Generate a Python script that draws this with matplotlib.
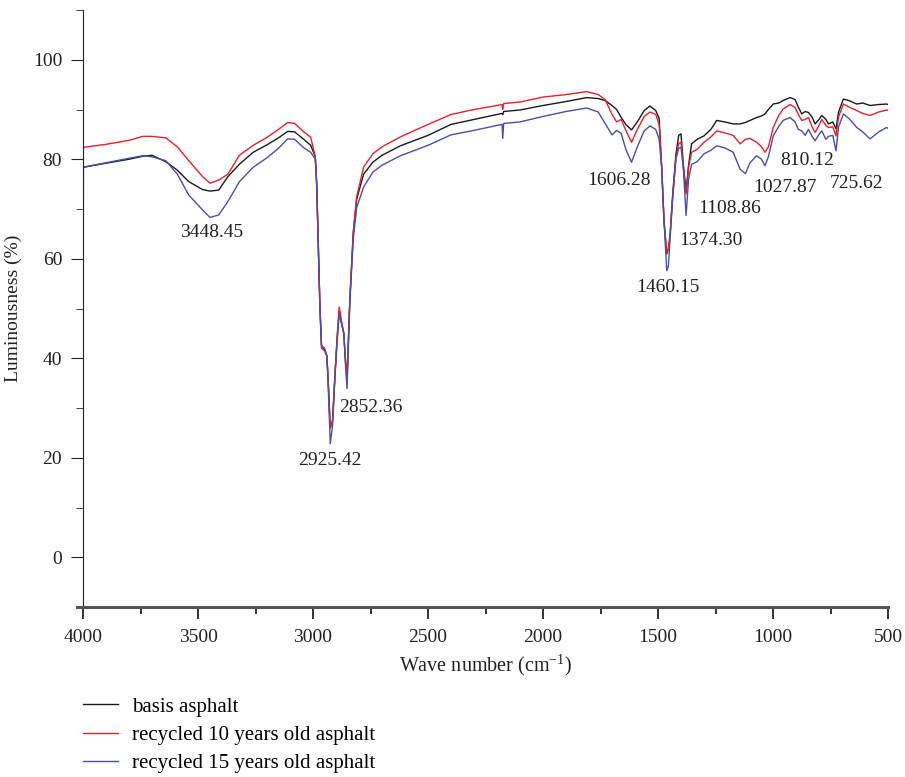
import numpy as np
from matplotlib import pyplot as plt
from matplotlib.ticker import MultipleLocator

# wave numbers (cm-1), shared by the three spectra
wave = [4000, 3998, 3900, 3800, 3740, 3700, 3640, 3590, 3540, 3480, 3448, 3410,
        3370, 3320, 3260, 3200, 3150, 3110, 3080, 3040, 3010, 2990, 2984, 2970,
        2963, 2950, 2940, 2935, 2925, 2915, 2904, 2895, 2886, 2876, 2866, 2858,
        2852, 2840, 2825, 2810, 2780, 2740, 2700, 2620, 2500, 2400, 2300, 2200,
        2178, 2175, 2171, 2100, 2000, 1900, 1810, 1760, 1730, 1700, 1680, 1660, 1640,
        1615, 1590, 1560, 1535, 1510, 1495, 1484, 1474, 1462, 1455, 1448, 1436,
        1422, 1410, 1400, 1390, 1378, 1367, 1354, 1330, 1300, 1270, 1245, 1210,
        1173, 1143, 1120, 1100, 1071, 1050, 1035, 1020, 999, 975, 956, 926,
        904, 890, 875, 860, 846, 830, 817, 800, 788, 770, 759, 740,
        726, 715, 694, 670, 636, 610, 578, 540, 506, 500]

basis = [78.4, 78.4, 79.2, 80.0, 80.6, 80.8, 79.5, 77.8, 75.5, 73.9, 73.6, 73.8,
         76.5, 79.0, 81.4, 82.9, 84.3, 85.6, 85.5, 84.0, 82.8, 80.5, 75.0, 50.5,
         42.5, 41.8, 40.5, 36.5, 26.0, 27.5, 37.0, 44.0, 49.5, 47.0, 45.0, 39.0,
         36.0, 51.6, 65.0, 72.0, 77.0, 79.4, 80.8, 82.7, 84.8, 87.0, 88.0, 89.0,
         89.2, 89.0, 89.6, 89.9, 90.8, 91.6, 92.4, 92.2, 91.8, 90.8, 90.0, 88.4, 87.0,
         85.9, 87.5, 89.8, 90.7, 89.8, 88.2, 78.4, 67.7, 61.0, 62.0, 64.5, 73.0,
         81.0, 84.8, 85.1, 79.0, 73.5, 78.8, 83.1, 84.0, 84.7, 86.0, 87.8, 87.5,
         87.1, 87.1, 87.4, 87.8, 88.4, 88.7, 89.1, 90.0, 91.1, 91.3, 91.8, 92.4,
         92.0, 90.5, 89.1, 89.6, 89.4, 88.5, 87.1, 88.0, 88.8, 88.0, 87.1, 87.5,
         86.1, 89.5, 92.1, 91.8, 91.1, 91.3, 90.8, 91.0, 91.1, 91.0]

rec10 = [78.4, 82.4, 83.0, 83.8, 84.6, 84.6, 84.3, 82.5, 79.7, 76.5, 75.2, 75.8,
         77.0, 80.8, 82.8, 84.4, 86.0, 87.4, 87.2, 85.5, 84.4, 80.5, 75.0, 50.5,
         42.5, 42.0, 40.5, 36.5, 26.0, 27.5, 37.0, 44.5, 50.3, 47.5, 45.0, 39.0,
         36.0, 51.6, 65.5, 72.5, 78.4, 81.1, 82.5, 84.5, 87.0, 89.0, 90.0, 90.8,
         91.0, 90.0, 91.2, 91.5, 92.5, 93.0, 93.6, 93.0, 92.0, 89.0, 87.5, 88.0, 85.8,
         83.4, 86.0, 88.6, 89.5, 89.0, 87.0, 78.4, 67.7, 61.0, 62.0, 64.5, 72.5,
         80.4, 83.2, 83.4, 78.4, 73.0, 78.4, 81.4, 82.0, 83.4, 84.5, 85.7, 85.3,
         84.8, 83.1, 84.0, 84.2, 83.4, 82.5, 81.4, 82.5, 86.4, 88.8, 90.1, 91.0,
         90.4, 89.0, 87.8, 88.0, 88.4, 86.5, 85.4, 86.8, 88.0, 86.8, 86.4, 86.5,
         84.7, 88.5, 91.1, 90.5, 89.8, 89.2, 88.8, 89.5, 89.9, 89.8]

rec15 = [50.0, 78.4, 79.3, 80.2, 80.7, 80.5, 79.7, 77.0, 72.8, 69.8, 68.3, 68.8,
         71.5, 75.5, 78.4, 80.3, 82.2, 84.1, 84.0, 82.3, 81.4, 80.0, 75.0, 50.3,
         42.0, 41.5, 40.5, 36.0, 22.8, 26.5, 36.9, 43.5, 48.9, 47.0, 44.9, 38.0,
         33.9, 51.0, 64.0, 70.3, 74.4, 77.4, 78.8, 80.7, 82.8, 84.9, 85.8, 86.8,
         87.0, 84.2, 87.2, 87.5, 88.6, 89.6, 90.3, 89.5, 87.2, 84.9, 85.8, 85.2, 82.0,
         79.4, 82.5, 85.7, 86.7, 86.0, 84.0, 78.4, 67.7, 57.6, 58.5, 63.7, 72.4,
         80.0, 82.2, 82.4, 78.4, 68.7, 76.0, 79.0, 79.5, 81.1, 81.8, 82.7, 82.3,
         81.4, 78.0, 77.1, 79.3, 80.7, 80.0, 78.7, 80.5, 84.7, 86.6, 87.8, 88.4,
         87.5, 86.0, 85.7, 84.8, 86.0, 84.6, 83.7, 85.0, 85.7, 84.0, 84.6, 84.8,
         81.7, 86.5, 89.1, 88.2, 86.4, 85.5, 84.1, 85.5, 86.4, 86.2]

# peak labels: text, x, y (text centre)
peak_text = ["3448.45", "2925.42", "2852.36", "1606.28", "1460.15",
             "1374.30", "1108.86", "1027.87", "810.12", "725.62"]
peak_x = [3440, 2926, 2750, 1670, 1457, 1270, 1187, 948, 852, 635]
peak_y = [65.3, 19.5, 30.2, 75.7, 54.2, 63.7, 70.1, 74.3, 79.7, 75.1]

series_names = ["basis asphalt", "recycled 10 years old asphalt",
                "recycled 15 years old asphalt"]
series_colors = ["#1a1a1a", "#e8202a", "#4a4fa8"]


def plotSpectra():
    plt.rcParams['font.family'] = ['Liberation Serif', 'DejaVu Serif']
    plt.rcParams['mathtext.fontset'] = 'custom'
    plt.rcParams['mathtext.rm'] = 'Liberation Serif'
    fig = plt.figure(figsize=(9.05, 7.77), dpi=100)
    ax = fig.add_axes([83 / 905, 1 - 607 / 777, 805 / 905, 597 / 777])

    for vals, name, col in zip([basis, rec10, rec15], series_names, series_colors):
        ax.plot(wave, vals, color=col, lw=1.0, label=name)

    for t, x, y in zip(peak_text, peak_x, peak_y):
        ax.text(x, y, t, fontsize=14, ha='center', va='center', color='#222222')

    ax.set_xlim(4000, 500)
    ax.set_ylim(-10, 110)
    ax.xaxis.set_major_locator(MultipleLocator(500))
    ax.xaxis.set_minor_locator(MultipleLocator(250))
    ax.yaxis.set_major_locator(MultipleLocator(20))
    ax.yaxis.set_minor_locator(MultipleLocator(10))
    ax.tick_params(which='both', direction='out', labelsize=14, colors='#222222')
    ax.tick_params(axis='y', which='major', length=9, pad=6)
    ax.tick_params(axis='x', which='major', length=8.5, pad=7, width=1.3)
    ax.tick_params(axis='x', which='minor', length=5, width=1.3)
    ax.tick_params(axis='y', which='minor', length=5)

    ax.spines['top'].set_visible(False)
    ax.spines['right'].set_visible(False)
    ax.spines['left'].set_color('#222222')
    ax.spines['bottom'].set_color('#555555')
    ax.spines['bottom'].set_linewidth(2.2)
    ax.spines['bottom'].set_bounds(4025, 500)

    ax.set_xlabel("Wave number (cm$^{-1}$)", fontsize=14.5, color='#222222', labelpad=5)
    ax.set_ylabel("Luminousness (%)", fontsize=14, color='#222222', labelpad=8)

    fig.legend(loc='upper left', bbox_to_anchor=(83 / 905, 1 - 697 / 777), frameon=False,
               fontsize=15, handlelength=1.68, handletextpad=0.65, labelspacing=0.42,
               borderaxespad=0, borderpad=0)

    fig.savefig("out.png", dpi=100)
    plt.close()


def main():
    plotSpectra()


if __name__ == '__main__':
    main()
